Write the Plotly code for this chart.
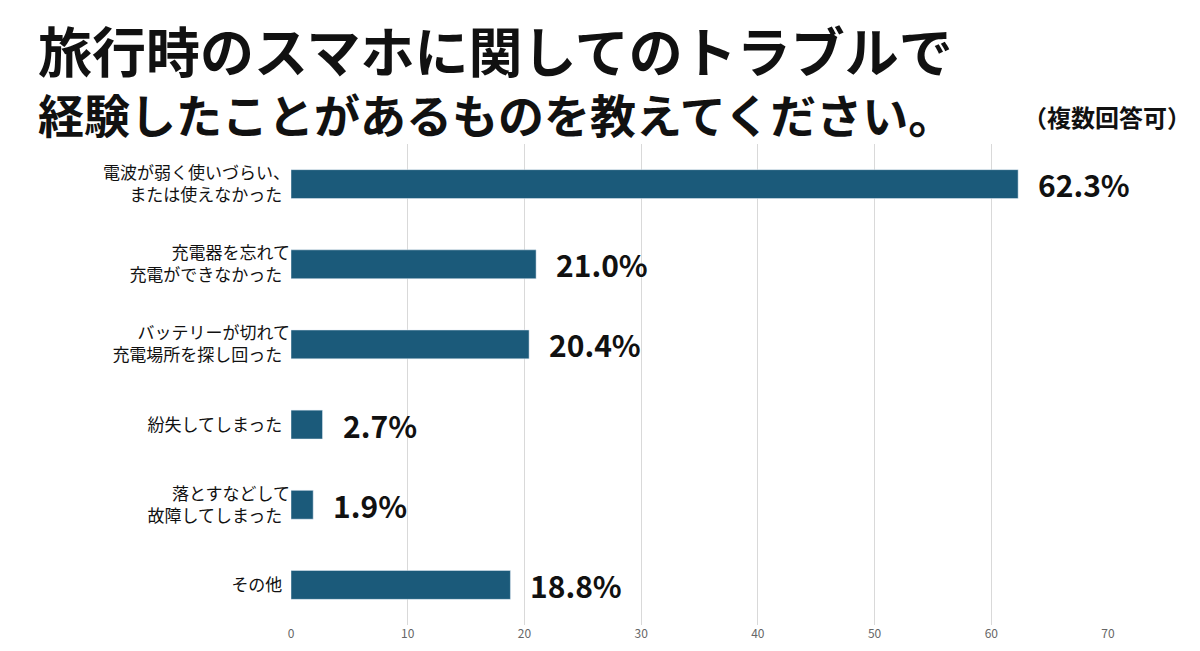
import plotly.graph_objects as go

categories = ["電波が弱く使いづらい、<br>または使えなかった", "充電器を忘れて<br>充電ができなかった",
              "バッテリーが切れて<br>充電場所を探し回った", "紛失してしまった",
              "落とすなどして<br>故障してしまった", "その他"]
values = [62.3, 21.0, 20.4, 2.7, 1.9, 18.8]
labels = ["62.3%", "21.0%", "20.4%", "2.7%", "1.9%", "18.8%"]

F = "Noto Sans CJK JP"
fig = go.Figure(go.Bar(
    x=values, y=categories, orientation="h", width=0.36,
    marker_color="#1b5a7a", cliponaxis=False,
))
anns = []
for c, v, t in zip(categories, values, labels):
    anns.append(dict(x=v, y=c, xref="x", yref="y", text="<b>" + t + "</b>", showarrow=False,
                     xanchor="left", yanchor="middle", xshift=18,
                     font=dict(family=F, size=30, color="#111")))
W, H = 817, 481
anns += [
    dict(text="<b>旅行時のスマホに関してのトラブルで</b>", x=(28-283)/W, y=1+(136-42)/H,
         xanchor="left", yanchor="middle", font=dict(family=F, size=54, color="#111")),
    dict(text="<b>経験したことがあるものを教えてください。</b>", x=(28-283)/W, y=1+(136-105)/H,
         xanchor="left", yanchor="middle", font=dict(family=F, size=46, color="#111")),
    dict(text="<b>（複数回答可）</b>", x=1+(1185-1100)/W, y=1+(136-108)/H,
         xanchor="right", yanchor="middle", font=dict(family=F, size=24, color="#111")),
]
for a in anns[-3:]:
    a.update(xref="paper", yref="paper", showarrow=False)

fig.update_layout(
    width=1200, height=651, paper_bgcolor="white", plot_bgcolor="white",
    margin=dict(l=283, r=100, t=136, b=34, autoexpand=False), showlegend=False,
    xaxis=dict(range=[0, 70], dtick=10, showgrid=True, gridcolor="#d9d9d9", zeroline=False,
               tickfont=dict(family=F, size=12, color="#666"), ticks="", automargin=False),
    yaxis=dict(autorange="reversed", tickfont=dict(family=F, size=17, color="#111"),
               ticksuffix="  ", showgrid=False, automargin=False),
    annotations=anns,
)
fig.write_html("out.html")
